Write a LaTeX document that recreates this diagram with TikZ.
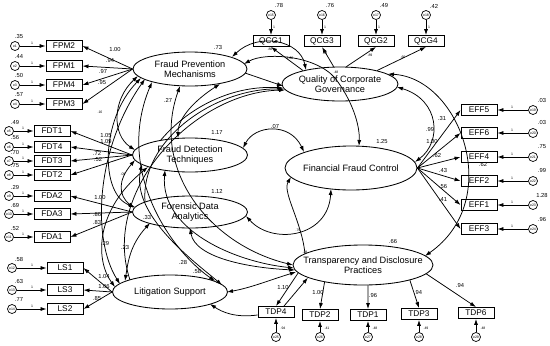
\documentclass[tikz,border=0pt]{standalone}
\usepackage{fontspec}
\setmainfont{Liberation Sans}
\usetikzlibrary{shapes.geometric,arrows.meta,calc}
\begin{document}
\begin{tikzpicture}[x=1pt,y=-1pt,
 lat/.style={ellipse,draw,line width=.85pt,inner sep=0pt},
 lt/.style={align=center,inner sep=0pt,font=\fontsize{9.2}{10}\selectfont},
 ind/.style={rectangle,draw,line width=.9pt,minimum width=36pt,minimum height=11pt,inner sep=0pt,font=\fontsize{8.3}{8}\selectfont},
 errc/.style={circle,draw,line width=.7pt,minimum size=9pt,inner sep=0pt,font=\fontsize{3.5}{3.5}\selectfont},
 num/.style={inner sep=0pt,font=\fontsize{5.8}{5.8}\selectfont},
 tn/.style={inner sep=0pt,font=\fontsize{3.5}{3.5}\selectfont},
 arr/.style={-{Latex[length=6pt,width=4pt]},line width=.75pt},
 darr/.style={{Latex[length=6pt,width=4pt]}-{Latex[length=6pt,width=4pt]},line width=.75pt},
]
\useasboundingbox (0,0) rectangle (550,346);
\fill[white] (0,0) rectangle (550,346);

% latent variables
\node[lat,minimum width=114pt,minimum height=34pt] (FPM) at (190,69) {};
\node[lt] (FPMt) at (FPM) {Fraud Prevention\\Mechanisms};
\node[lat,minimum width=116pt,minimum height=34pt] (QCG) at (340,84) {};
\node[lt] (QCGt) at (QCG) {Quality of Corporate\\Governance};
\node[lat,minimum width=115pt,minimum height=34pt] (FDT) at (190,155) {};
\node[lt] (FDTt) at (FDT) {Fraud Detection\\Techniques};
\node[lat,minimum width=115pt,minimum height=32pt] (FDA) at (190,212) {};
\node[lt] (FDAt) at (FDA) {Forensic Data\\Analytics};
\node[lat,minimum width=132pt,minimum height=44pt] (FFC) at (351,168) {};
\node[lt] (FFCt) at (FFC) {Financial Fraud Control};
\node[lat,minimum width=140pt,minimum height=40pt] (TDP) at (363,265) {};
\node[lt] (TDPt) at (TDP) {Transparency and Disclosure\\Practices};
\node[lat,minimum width=115pt,minimum height=34pt] (LS) at (170,292) {};
\node[lt] (LSt) at (LS) {Litigation Support};

% indicators with errors (left)
\foreach \nm/\yy/\ee/\vv in {FPM2/46/1/.35, FPM1/66/2/.44, FPM4/85/3/.50, FPM3/104/4/.57} {
  \node[ind] (\nm) at (64,\yy) {\nm};
  \node[errc] (e\ee) at (15,\yy) {e\ee};
  \node[num] at (19,\yy-9) {\vv};
  \node[tn] at (32,\yy-3) {1};
  \draw[arr] (e\ee) -- (\nm.west);
}
\foreach \nm/\yy/\ee/\vv in {FDT1/131/5/.49, FDT4/147/6/.56, FDT3/161/7/.70, FDT2/175/8/.75, FDA2/196/9/.29, FDA3/214/10/.69, FDA1/237/11/.52} {
  \node[ind] (\nm) at (52,\yy) {\nm};
  \node[errc] (e\ee) at (9,\yy) {e\ee};
  \node[num] at (15,\yy-9) {\vv};
  \node[tn] at (23,\yy-3) {1};
  \draw[arr] (e\ee) -- (\nm.west);
}
\foreach \nm/\yy/\ee/\vv in {LS1/268/12/.58, LS3/290/13/.63, LS2/309/14/.77} {
  \node[ind] (\nm) at (65,\yy) {\nm};
  \node[errc] (e\ee) at (12,\yy) {e\ee};
  \node[num] at (19,\yy-9) {\vv};
  \node[tn] at (32,\yy-3) {1};
  \draw[arr] (e\ee) -- (\nm.west);
}
% top
\foreach \nm/\xx/\ee/\vv in {QCG1/271/15/.78, QCG3/322/16/.76, QCG2/376/17/.49, QCG4/426/18/.42} {
  \node[ind] (\nm) at (\xx,41) {\nm};
  \node[errc] (e\ee) at (\xx,15) {e\ee};
  \node[num] at (\xx+8,6) {\vv};
  \node[tn] at (\xx+3,27) {1};
  \draw[arr] (e\ee) -- (\nm.north);
}
% right
\foreach \nm/\yy/\ee/\vv in {EFF5/110/19/.03, EFF6/133/20/.03, EFF4/157/21/.75, EFF2/181/22/.99, EFF1/205/23/1.28, EFF3/229/24/.96} {
  \node[ind] (\nm) at (479,\yy) {\nm};
  \node[errc] (e\ee) at (533,\yy) {e\ee};
  \node[num] at (542,\yy-10) {\vv};
  \node[tn] at (512,\yy-3) {1};
  \draw[arr] (e\ee) -- (\nm.east);
}
% bottom
\foreach \nm/\xx/\yy/\ee/\vv in {TDP4/276/312/25/.94, TDP2/320/315/26/.41, TDP1/368/315/27/.48, TDP3/419/314/28/.49, TDP6/476/313/29/.48} {
  \node[ind] (\nm) at (\xx,\yy) {\nm};
  \node[errc] (e\ee) at (\xx,337) {e\ee};
  \node[tn] at (\xx+7,328) {\vv};
  \draw[arr] (e\ee) -- (\nm.south);
}

% loadings
\foreach \b in {FPM2,FPM1,FPM4,FPM3} \draw[arr] (FPM.west) -- (\b.east);
\foreach \b in {FDT1,FDT4,FDT3,FDT2} \draw[arr] (FDT.west) -- (\b.east);
\foreach \b in {FDA2,FDA3,FDA1} \draw[arr] (FDA.west) -- (\b.east);
\foreach \b in {LS1,LS3,LS2} \draw[arr] (LS.west) -- (\b.east);
\foreach \b in {EFF5,EFF6,EFF4,EFF2,EFF1,EFF3} \draw[arr] (FFC.east) -- (\b.west);
\draw[arr] (QCG.160) -- (QCG1.south);
\draw[arr] (QCG.110) -- (QCG3.south);
\draw[arr] (QCG.70) -- (QCG2.south);
\draw[arr] (QCG.20) -- (QCG4.south);
\draw[arr] (TDP.187) -- (TDP4.north);
\draw[arr] ($(TDP4.north)+(8,0)$) -- (TDP.193);
\draw[arr] (TDP.204) -- (TDP2.north);
\draw[arr] (TDP.284) -- (TDP1.north);
\draw[arr] (TDP.342) -- (TDP3.north);
\draw[arr] (TDP.352) -- (TDP6.north);

% loading labels
\node[num] at (115,49) {1.00};
\node[num] at (110,61) {.94};
\node[num] at (103,72) {.97};
\node[num] at (102,83) {.95};
\node[num] at (106,135) {1.05};
\node[num] at (106,142) {1.09};
\node[num] at (97,153) {.72};
\node[num] at (98,160) {.52};
\node[num] at (100,197) {1.00};
\node[num] at (97,214) {.86};
\node[num] at (97,222) {.83};
\node[num] at (104,276) {1.04};
\node[num] at (104,286) {1.06};
\node[num] at (97,298) {.85};
\node[tn] at (270,49) {.88};
\node[tn] at (325,53) {.89};
\node[tn] at (370,55) {.89};
\node[tn] at (403,57) {.66};
\node[num] at (442,118) {.31};
\node[num] at (430,129) {.99};
\node[num] at (432,142) {1.00};
\node[num] at (437,155) {.62};
\node[num] at (483,164) {.62};
\node[num] at (443,171) {.43};
\node[num] at (443,186) {.56};
\node[num] at (443,200) {.41};
\node[num] at (283,287) {1.10};
\node[num] at (318,292) {1.00};
\node[num] at (373,295) {.96};
\node[num] at (418,292) {.94};
\node[num] at (460,285) {.94};

% variances / covariance labels
\node[num] at (218,48) {.73};
\node[num] at (217,133) {1.17};
\node[num] at (217,191) {1.12};
\node[num] at (382,141) {1.25};
\node[num] at (393,241) {.66};
\node[num] at (275,127) {.07};
\node[num] at (168,100) {.27};
\node[num] at (147,217) {.33};
\node[num] at (105,243) {.29};
\node[num] at (125,247) {.23};
\node[num] at (183,262) {.28};
\node[num] at (197,271) {.58};
\node[tn] at (298,230) {.79};
\node[tn] at (305,252) {.28};
\node[tn] at (336,72) {.48};
\node[tn] at (290,58) {1.00};
\node[tn] at (100,112) {.16};
\node[tn] at (123,174) {.09};

% top connections
\draw[darr] ($(FPM)+(42,-12)$) .. controls (258,32) and (300,40) .. ($(QCG)+(-34,-14)$);
\draw[darr] ($(FPM)+(54,-5)$) .. controls (265,52) and (315,55) .. (335,78) .. controls (352,100) and (360,125) .. ($(FFC)+(8,-22)$);
\draw[arr] ($(FPM)+(55,4)$) -- ($(QCG)+(-57,2)$);
\draw[arr] ($(FDT)+(-30,-14)$) .. controls (190,105) and (235,85) .. ($(QCG)+(-57,4)$);
\draw[arr] ($(FDA)+(-45,-10)$) .. controls (140,140) and (215,88) .. ($(QCG)+(-56,5)$);
\draw[arr] ($(LS)+(-40,-12)$) .. controls (100,190) and (195,92) .. ($(QCG)+(-55,6)$);

% to TDP
\draw[darr] ($(FPM)+(-10,17)$) .. controls (150,170) and (210,245) .. ($(TDP)+(-70,0)$);
\draw[darr] ($(FDT)+(-25,15)$) .. controls (160,230) and (235,262) .. ($(TDP)+(-69,3)$);
\draw[darr] ($(FDA)+(0,16)$) .. controls (195,258) and (250,268) .. ($(TDP)+(-68,5)$);
\draw[darr] ($(LS)+(57,0)$) .. controls (250,288) and (270,280) .. ($(TDP)+(-67,7)$);

% to LS top right
\draw[darr] ($(FPM)+(-38,13)$) .. controls (115,170) and (170,250) .. ($(LS)+(45,-11)$);
\draw[darr] ($(FDT)+(-48,9)$) .. controls (130,215) and (195,262) .. ($(LS)+(52,-7)$);

% left covariances
\draw[darr] ($(FPM)+(-45,10)$) .. controls (95,150) and (92,240) .. ($(LS)+(-50,-8)$);
\draw[darr] ($(FPM)+(-52,7)$) .. controls (112,100) and (112,135) .. ($(FDT)+(-55,-5)$);
\draw[darr] ($(FPM)+(-49,9)$) .. controls (100,120) and (100,195) .. ($(FDA)+(-55,-5)$);
\draw[darr] ($(FDT)+(-55,5)$) .. controls (118,180) and (118,195) .. ($(FDA)+(-56,-4)$);
\draw[darr] ($(FDT)+(-42,12)$) .. controls (95,210) and (95,260) .. ($(LS)+(-55,-5)$);
\draw[darr] ($(FDA)+(-40,11)$) .. controls (130,245) and (128,262) .. ($(LS)+(-45,-11)$);
\draw[darr] ($(FPM)+(30,15)$) .. controls (195,100) and (178,118) .. ($(FDT)+(-12,-17)$);

% to FFC
\draw[darr] ($(FDT)+(53,-7)$) .. controls (255,125) and (290,122) .. ($(FFC)+(-47,-16)$);
\draw[darr] ($(FDA)+(56,4)$) .. controls (272,245) and (328,238) .. ($(FFC)+(-20,21)$);
\draw[arr] ($(TDP)+(-58,-11)$) .. controls (302,222) and (282,192) .. ($(FFC)+(-60,9)$);

% right side
\draw[darr] ($(QCG)+(57,3)$) .. controls (440,100) and (442,142) .. ($(FFC)+(64,-6)$);
\draw[darr] ($(QCG)+(48,-10)$) .. controls (460,78) and (505,200) .. ($(TDP)+(62,-9)$);

% TDP4 to LS
\draw[arr] ($(TDP4.west)+(0,3)$) .. controls (235,318) and (222,312) .. ($(LS)+(40,12)$);
\end{tikzpicture}
\end{document}
